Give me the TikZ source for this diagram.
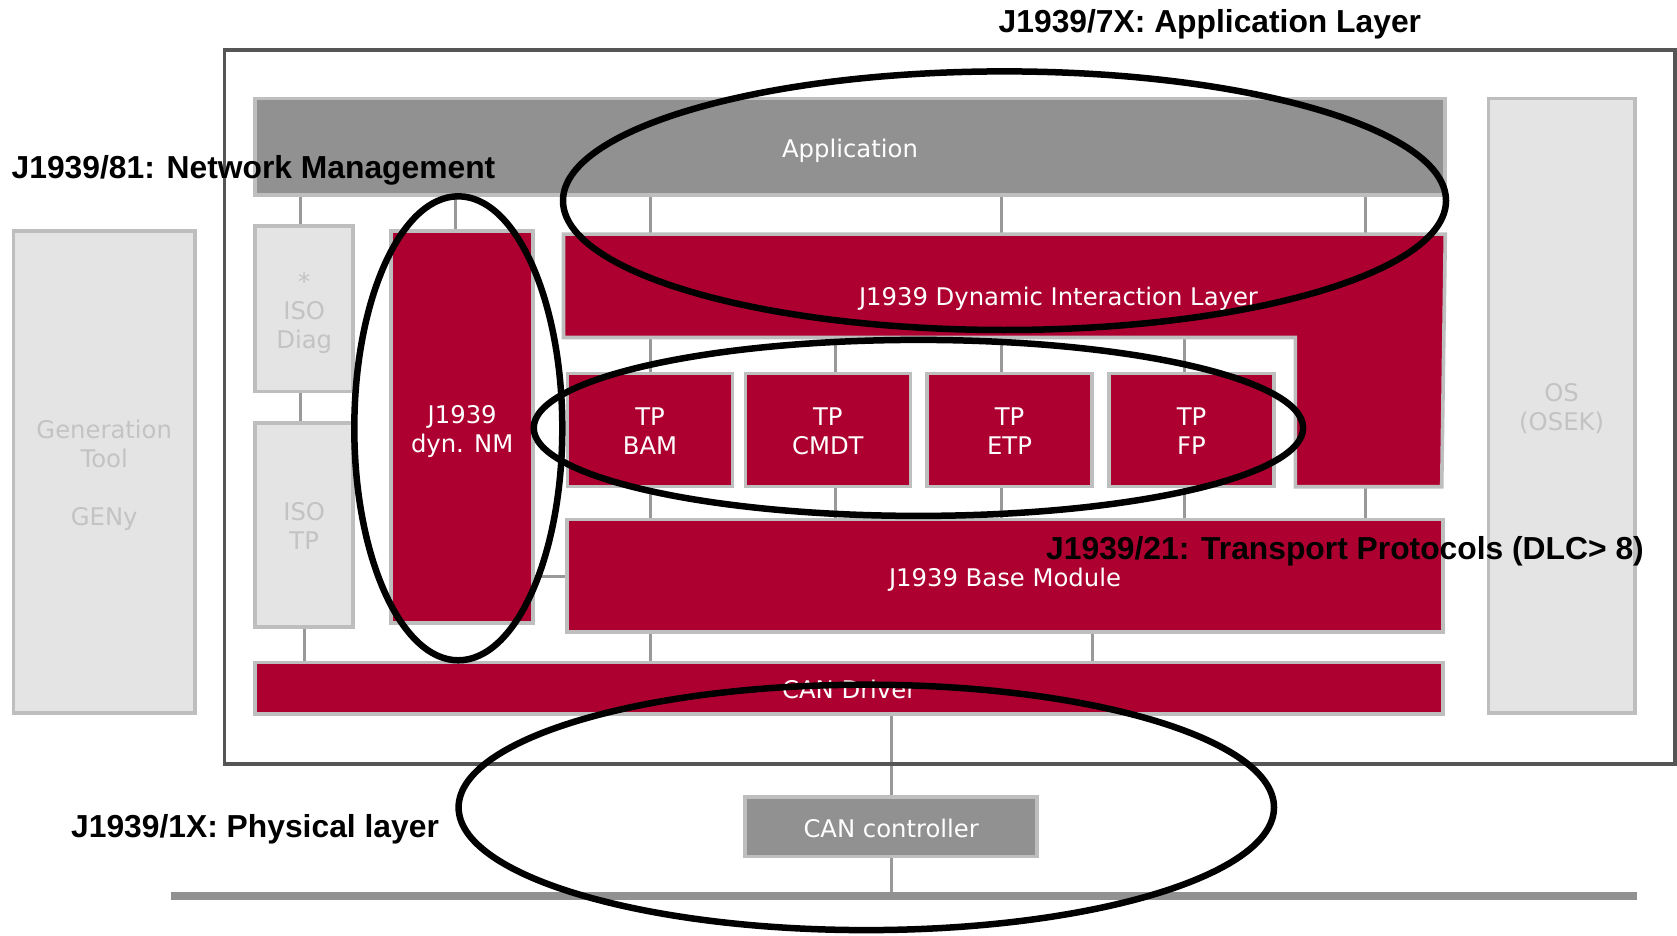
\documentclass[tikz,border=0pt]{standalone}
\usepackage{fontspec}
\newfontfamily\boxfont{DejaVu Sans}
\newfontfamily\labfont{Liberation Sans}
\usetikzlibrary{calc}
\definecolor{vred}{RGB}{173,0,48}
\definecolor{appgray}{RGB}{145,145,145}
\definecolor{bordergray}{RGB}{190,190,190}
\definecolor{lightfill}{RGB}{228,228,228}
\definecolor{lighttext}{RGB}{195,195,195}
\definecolor{framegray}{RGB}{85,85,85}
\definecolor{conngray}{RGB}{153,153,153}
\newcommand\tstrut{\rule{0pt}{26.8pt}}
\newcommand\bstrut{\rule[-6.1pt]{0pt}{6.1pt}}
\pgfdeclarelayer{bg}
\pgfsetlayers{bg,main}
\begin{document}
\begin{tikzpicture}[x=1pt,y=-1pt,
  box/.style={rectangle, draw=bordergray, line width=3.6pt, inner sep=0pt, outer sep=0pt, align=center,
    font=\boxfont\fontsize{24.3}{29}\selectfont},
  redbox/.style={box, fill=vred, text=white},
  graybox/.style={box, fill=appgray, text=white},
  lightbox/.style={box, fill=lightfill, text=lighttext},
  conn/.style={draw=conngray, line width=3pt},
  ring/.style={draw=black, line width=6.5pt},
  lab/.style={font=\labfont\bfseries\fontsize{31.8}{36}\selectfont, inner sep=0pt, anchor=base west, text=black},
  tpbox/.style={redbox, minimum width=165pt, minimum height=113pt}
]
\useasboundingbox (0,0) rectangle (1677,936);

% frame
\draw[draw=framegray, line width=3.3pt] (224.3,50) rectangle (1675,764);

% boxes
\node[graybox, minimum width=1189.8pt, minimum height=96.4pt] (app) at (850,146.7) {\tstrut Application\bstrut};
\node[lightbox, minimum width=146.2pt, minimum height=614.7pt] (os) at (1561.6,405.9) {\tstrut OS\\(OSEK)\bstrut};
\node[lightbox, minimum width=181.4pt, minimum height=481.6pt] (gen) at (104.2,471.9) {\tstrut Generation\\Tool\\[29pt]GENy\bstrut};
\node[lightbox, minimum width=98.1pt, minimum height=165.4pt] (isodiag) at (304.2,308.8) {\tstrut *\\ISO\\Diag\bstrut};
\node[lightbox, minimum width=98.1pt, minimum height=204.4pt] (isotp) at (304.2,525) {\tstrut ISO\\TP\bstrut};
\node[redbox, minimum width=142.1pt, minimum height=392.1pt] (nm) at (462.2,427.2) {\tstrut J1939\\dyn. NM\bstrut};

% dynamic interaction layer (L shape)
\draw[draw=bordergray, line width=3.6pt, fill=vred]
  (563.5,234.1) -- (1445.3,234.1) -- (1441.7,486.7) -- (1295.3,486.7) -- (1295.3,337.5) -- (563.5,337.5) -- cycle;
\node[font=\boxfont\fontsize{24.3}{29}\selectfont, text=white, anchor=base, inner sep=0pt] (dil) at (1058.5,305.3) {J1939 Dynamic Interaction Layer};
\coordinate (diltop) at (0,234.1);
\coordinate (dilbot) at (0,337.5);
\coordinate (dilleg) at (0,486.7);

\node[tpbox] (bam) at (650,430) {\tstrut TP\\BAM\bstrut};
\node[tpbox] (cmdt) at (827.8,430) {\tstrut TP\\CMDT\bstrut};
\node[tpbox] (etp) at (1009.5,430) {\tstrut TP\\ETP\bstrut};
\node[tpbox] (fp) at (1191.5,430) {\tstrut TP\\FP\bstrut};

\node[redbox, minimum width=876.4pt, minimum height=112.7pt] (base) at (1005,575.9) {\tstrut J1939 Base Module\bstrut};
\node[redbox, minimum width=1188.1pt, minimum height=51.7pt] (drv) at (849.2,688.3) {\tstrut CAN Driver\bstrut};
\node[graybox, minimum width=292.1pt, minimum height=59.7pt] (ctrl) at (891.2,826.7) {\tstrut CAN controller\bstrut};

% bus
\coordinate (busL) at (171,896);
\coordinate (busR) at (1637,896);
\coordinate (bustop) at (0,892.5);
\draw[draw=appgray, line width=7.5pt] (busL) -- (busR);

% connector positions
\coordinate (k300) at (300,0);
\coordinate (k304) at (304,0);
\coordinate (k455) at (455,0);
\coordinate (k650) at (650,0);
\coordinate (k835) at (835.5,0);
\coordinate (k1001) at (1001.5,0);
\coordinate (k1184) at (1184,0);
\coordinate (k1365) at (1365.3,0);
\coordinate (k1092) at (1092.6,0);
\coordinate (k891) at (891.7,0);
\coordinate (k577) at (0,576.7);

\begin{pgfonlayer}{bg}
\draw[conn] (app.south -| k300) -- (isodiag.north -| k300);
\draw[conn] (isodiag.south -| k300) -- (isotp.north -| k300);
\draw[conn] (isotp.south -| k304) -- (drv.north -| k304);
\draw[conn] (app.south -| k455) -- (nm.north -| k455);
\draw[conn] (app.south -| k650) -- (diltop -| k650);
\draw[conn] (app.south -| k1001) -- (diltop -| k1001);
\draw[conn] (app.south -| k1365) -- (diltop -| k1365);
\draw[conn] (dilbot -| k650) -- (bam.north -| k650);
\draw[conn] (dilbot -| k835) -- (cmdt.north -| k835);
\draw[conn] (dilbot -| k1001) -- (etp.north -| k1001);
\draw[conn] (dilbot -| k1184) -- (fp.north -| k1184);
\draw[conn] (bam.south -| k650) -- (base.north -| k650);
\draw[conn] (cmdt.south -| k835) -- (base.north -| k835);
\draw[conn] (etp.south -| k1001) -- (base.north -| k1001);
\draw[conn] (fp.south -| k1184) -- (base.north -| k1184);
\draw[conn] (dilleg -| k1365) -- (base.north -| k1365);
\draw[conn] (nm.east |- k577) -- (base.west |- k577);
\draw[conn] (base.south -| k650) -- (drv.north -| k650);
\draw[conn] (base.south -| k1092) -- (drv.north -| k1092);
\draw[conn] (drv.south -| k891) -- (ctrl.north -| k891);
\draw[conn] (ctrl.south -| k891) -- (bustop -| k891);
\end{pgfonlayer}

% ellipses
\draw[ring] (1004.5,200.7) ellipse [x radius=441.5pt, y radius=129.3pt];
\draw[ring] (458.3,428.3) ellipse [x radius=104pt, y radius=232pt];
\draw[ring] (918.4,427.9) ellipse [x radius=384.7pt, y radius=88pt];
\draw[ring] (866.3,807.4) ellipse [x radius=407.7pt, y radius=122.7pt];

% labels
\node[lab] (lblapp) at (998.5,32.5) {J1939/7X: Application Layer};
\node[lab] (lblnm) at (11.5,178.3) {J1939/81: Network Management};
\node[lab] (lbltp) at (1046,559.3) {J1939/21: Transport Protocols (DLC> 8)};
\node[lab] (lblphy) at (71,837.6) {J1939/1X: Physical layer};
\end{tikzpicture}
\end{document}
